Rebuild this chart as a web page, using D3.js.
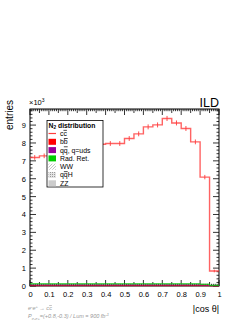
<!DOCTYPE html>
<html><head><meta charset="utf-8">
<script src="https://cdn.jsdelivr.net/npm/d3@7"></script>
<style>body{margin:0;background:#fff}text{font-family:"Liberation Sans",Arial,Helvetica,sans-serif}</style>
</head><body><svg id="c" width="249" height="323"></svg>
<script>
// ---- data (entries in units of 10^3) ----
const binEdges = [0,0.05,0.1,0.15,0.2,0.25,0.3,0.35,0.4,0.45,0.5,0.55,0.6,0.65,0.7,0.75,0.8,0.85,0.9,0.95,1.0];
const ccbar  = [7.19,7.28,7.35,7.45,7.57,7.68,7.82,7.93,7.97,7.97,8.25,8.51,8.90,9.01,9.37,9.12,8.81,8.06,6.09,0.84];
const ccErr  = [0.085,0.085,0.086,0.086,0.087,0.088,0.088,0.089,0.089,0.089,0.091,0.092,0.094,0.095,0.097,0.095,0.094,0.09,0.078,0.03];
const bbbar  = [0.02,0.02,0.02,0.02,0.02,0.02,0.02,0.02,0.02,0.02,0.02,0.02,0.02,0.02,0.02,0.02,0.02,0.02,0.02,0.01];
const udsbar = [0.04,0.04,0.04,0.04,0.04,0.04,0.04,0.04,0.04,0.04,0.04,0.04,0.04,0.04,0.04,0.04,0.04,0.04,0.03,0.01];
const radRet = [0.06,0.06,0.06,0.06,0.06,0.06,0.06,0.06,0.06,0.06,0.06,0.06,0.06,0.06,0.06,0.06,0.06,0.06,0.05,0.02];
const xTickVals = [0,0.1,0.2,0.3,0.4,0.5,0.6,0.7,0.8,0.9,1];
const xTickLabels = ["0","0.1","0.2","0.3","0.4","0.5","0.6","0.7","0.8","0.9","1"];
const yTickVals = [0,1,2,3,4,5,6,7,8,9];
const yTickLabels = ["0","1","2","3","4","5","6","7","8","9"];
// legend labels: [plain part, overlined part, rest]
const legendLabels = [["c","c",""],["b","b",""],["q","q",", q=uds"],["Rad. Ret.","",""],["WW","",""],["q","q","H"],["ZZ","",""]];

const svg = d3.select("#c");
const L=30, R=219, T=109, B=286;
const x = d3.scaleLinear().domain([0,1]).range([L,R]);
const y = d3.scaleLinear().domain([0,9.9]).range([B,T]);

// defs / patterns
const defs = svg.append("defs");
const ph = defs.append("pattern").attr("id","hatch").attr("patternUnits","userSpaceOnUse").attr("width",3).attr("height",3);
ph.append("rect").attr("width",3).attr("height",3).attr("fill","#fff");
ph.append("path").attr("d","M0,3 L3,0 M-1,1 L1,-1 M2,4 L4,2").attr("stroke","#aaa").attr("stroke-width",0.7);
const pd = defs.append("pattern").attr("id","dots").attr("patternUnits","userSpaceOnUse").attr("width",2).attr("height",2);
pd.append("rect").attr("width",2).attr("height",2).attr("fill","#e4e4e4");
pd.append("rect").attr("width",1).attr("height",1).attr("fill","#999");

// frame
svg.append("rect").attr("x",L).attr("y",T).attr("width",R-L).attr("height",B-T)
  .attr("fill","none").attr("stroke","#000").attr("stroke-width",1);

// minor ticks
const xMinor = d3.range(0,1.0001,0.01);
const yMinor = d3.range(0,9.9,0.2);
const tg = svg.append("g").attr("stroke","#000").attr("stroke-width",0.8);
xMinor.forEach((v,i)=>{
  const len = (i%10===0)?6:((i%5===0)?4:2.2);
  tg.append("line").attr("x1",x(v)).attr("x2",x(v)).attr("y1",B).attr("y2",B-len);
  tg.append("line").attr("x1",x(v)).attr("x2",x(v)).attr("y1",T).attr("y2",T+len);
});
yMinor.forEach((v,i)=>{
  const len = (i%5===0)?6:2.5;
  tg.append("line").attr("y1",y(v)).attr("y2",y(v)).attr("x1",L).attr("x2",L+len);
  tg.append("line").attr("y1",y(v)).attr("y2",y(v)).attr("x1",R).attr("x2",R-len);
});

// axis labels via d3 axes
const xAxis = d3.axisBottom(x).tickValues(xTickVals).tickFormat((d,i)=>xTickLabels[i]).tickSize(0).tickPadding(6);
const gx = svg.append("g").attr("transform",`translate(0,${B})`).call(xAxis);
gx.select(".domain").remove();
gx.selectAll("text").attr("font-size",7.5).attr("fill","#000").attr("font-family","Liberation Sans, Arial, sans-serif");
const yAxis = d3.axisLeft(y).tickValues(yTickVals).tickFormat((d,i)=>yTickLabels[i]).tickSize(0).tickPadding(4);
const gy = svg.append("g").attr("transform",`translate(${L},0)`).call(yAxis);
gy.select(".domain").remove();
gy.selectAll("text").attr("font-size",7.5).attr("fill","#000").attr("font-family","Liberation Sans, Arial, sans-serif");

// x10^3
const ex = svg.append("text").attr("x",L-1).attr("y",105).attr("font-size",7.5);
ex.append("tspan").text("×10");
ex.append("tspan").attr("font-size",5).attr("dy",-3).text("3");

// axis titles
svg.append("text").attr("transform","translate(13,100) rotate(-90)").attr("text-anchor","end")
  .attr("font-size",10).text("entries");
svg.append("text").attr("x",R).attr("y",312).attr("text-anchor","end").attr("font-size",9).text("|cos θ|");
svg.append("text").attr("x",R).attr("y",107).attr("text-anchor","end").attr("font-size",12.5).text("ILD");

// histograms
function stepPts(vals){ const p = vals.map((v,i)=>[binEdges[i],v]); p.push([binEdges[vals.length],vals[vals.length-1]]); return p; }
const line = d3.line().x(d=>x(d[0])).y(d=>y(d[1])).curve(d3.curveStepAfter);
const stackA = radRet.map((v,i)=>v+udsbar[i]+bbbar[i]);
const stackB = udsbar.map((v,i)=>v+bbbar[i]);
svg.append("path").attr("d",line(stepPts(bbbar))).attr("fill","none").attr("stroke","#ff0000").attr("stroke-width",0.8);
svg.append("path").attr("d",line(stepPts(stackB))).attr("fill","none").attr("stroke","#990099").attr("stroke-width",0.8);
svg.append("path").attr("d",line(stepPts(stackA))).attr("fill","none").attr("stroke","#00c800").attr("stroke-width",1);

const red = "#ff3c3c";
svg.append("path").attr("d",line(stepPts(ccbar))).attr("fill","none").attr("stroke",red).attr("stroke-width",1.4).attr("stroke-opacity",0.8);
const eg = svg.append("g").attr("stroke",red).attr("stroke-width",1).attr("stroke-opacity",0.9);
ccbar.forEach((v,i)=>{
  const c = (binEdges[i]+binEdges[i+1])/2;
  eg.append("line").attr("x1",x(c)).attr("x2",x(c)).attr("y1",y(v-ccErr[i])+0.8).attr("y2",y(v+ccErr[i])-0.8);
});

// legend
const lg = svg.append("g");
lg.append("rect").attr("x",47).attr("y",120.5).attr("width",56).attr("height",66.5).attr("fill","#fff").attr("stroke","#000").attr("stroke-width",0.8);
const tt = lg.append("text").attr("x",48.5).attr("y",127.8).attr("font-size",6.8).attr("font-weight","bold");
tt.append("tspan").text("N");
tt.append("tspan").attr("font-size",4.8).attr("dy",1.5).text("2");
tt.append("tspan").attr("dy",-1.5).text(" distribution");
const rowY = legendLabels.map((d,i)=>133.5+i*8.3);
const fills = [null,"#ff0000","#990099","#00cc00","url(#hatch)","url(#dots)","#cccccc"];
legendLabels.forEach((lab,i)=>{
  const yy = rowY[i];
  if(i===0){
    lg.append("line").attr("x1",48.5).attr("x2",56).attr("y1",yy).attr("y2",yy).attr("stroke",red).attr("stroke-width",1.2);
  } else {
    lg.append("rect").attr("x",48.5).attr("y",yy-3).attr("width",7.5).attr("height",6).attr("fill",fills[i]);
  }
  const t = lg.append("text").attr("x",60).attr("y",yy+2.4).attr("font-size",6.9);
  t.append("tspan").text(lab[0]);
  if(lab[1]) t.append("tspan").attr("text-decoration","overline").text(lab[1]);
  if(lab[2]) t.append("tspan").text(lab[2]);
});

// bottom info text
const b1 = svg.append("text").attr("x",28).attr("y",310).attr("font-size",5.5).attr("font-style","italic").attr("fill","#999");
b1.append("tspan").text("e");
b1.append("tspan").attr("font-size",4).attr("dy",-2).text("-");
b1.append("tspan").attr("dy",2).text("e");
b1.append("tspan").attr("font-size",4).attr("dy",-2).text("+");
b1.append("tspan").attr("dy",2).text(" → c");
b1.append("tspan").attr("text-decoration","overline").text("c");
const b2 = svg.append("text").attr("x",28).attr("y",318).attr("font-size",5.5).attr("font-style","italic").attr("fill","#999");
b2.append("tspan").text("P");
b2.append("tspan").attr("font-size",4).attr("dy",1.5).text("e-e+");
b2.append("tspan").attr("dy",-1.5).text("=(+0.8,-0.3) / Lum = 900 fb");
b2.append("tspan").attr("font-size",4).attr("dy",-2).text("-1");
</script></body></html>
